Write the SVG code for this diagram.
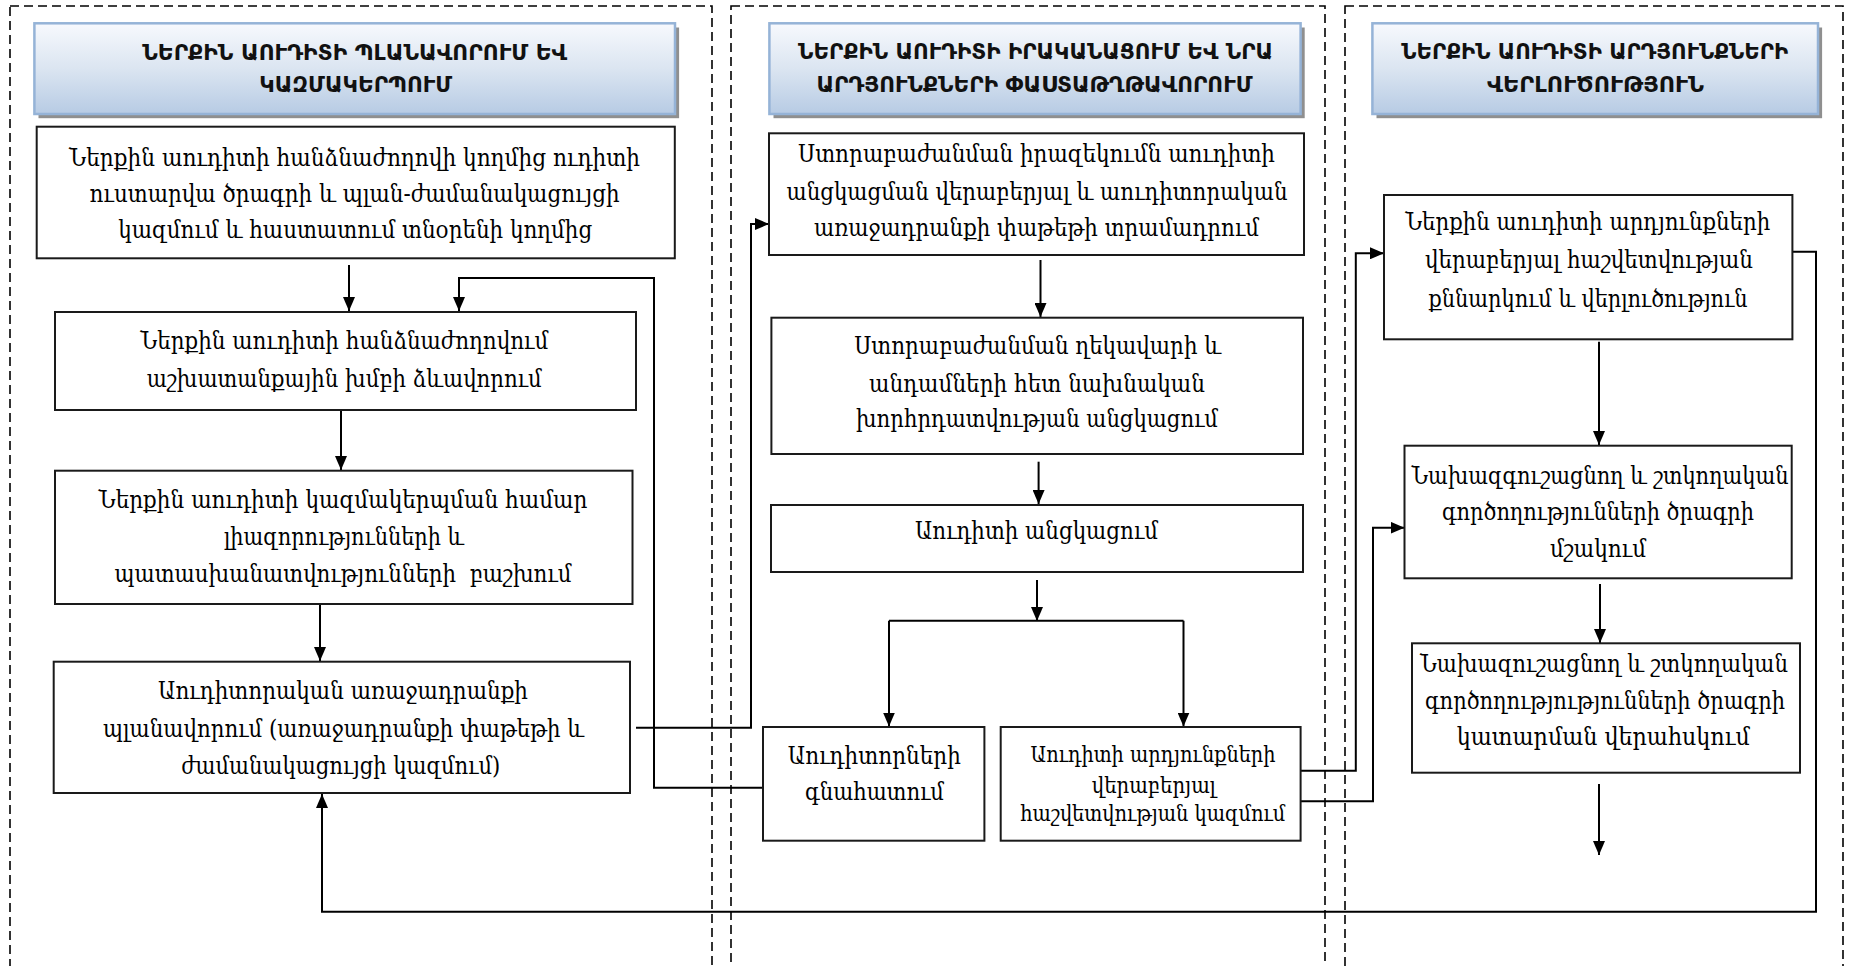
<svg xmlns="http://www.w3.org/2000/svg" width="1849" height="966" viewBox="0 0 1849 966">
<defs>
<linearGradient id="hg" x1="0" y1="0" x2="0" y2="1">
<stop offset="0" stop-color="#f7f9fd"/>
<stop offset="0.5" stop-color="#dbe5f1"/>
<stop offset="1" stop-color="#b7cbe4"/>
</linearGradient>
<marker id="ah" markerUnits="userSpaceOnUse" markerWidth="14" markerHeight="12" refX="14" refY="6" orient="auto">
<path d="M0,0 L14,6 L0,12 z" fill="#000"/>
</marker>
</defs>
<style>
.panel{fill:none;stroke:#000;stroke-width:1.6;stroke-dasharray:9 5}
.hdr{fill:url(#hg);stroke:#95b3d7;stroke-width:2.5}
.shd{fill:#8f8f8f}
.box{fill:#fff;stroke:#1a1a1a;stroke-width:2}
.ht{font-family:"DejaVu Sans",sans-serif;font-weight:bold;font-size:21.5px;fill:#111;text-anchor:middle}
.bt{font-family:"DejaVu Serif","DejaVu Sans",serif;font-size:24px;fill:#000;text-anchor:middle}
.bs{font-family:"DejaVu Serif","DejaVu Sans",serif;font-size:22px;fill:#000;text-anchor:middle}
.cn{fill:none;stroke:#000;stroke-width:2}
.ar{fill:none;stroke:#000;stroke-width:2;marker-end:url(#ah)}
</style>
<rect width="1849" height="966" fill="#fff"/>
<g id="panels">
<rect class="panel" x="10" y="6" width="702" height="990"/>
<rect class="panel" x="731" y="6" width="594" height="990"/>
<rect class="panel" x="1345" y="6" width="498" height="990"/>
</g>
<g id="header1">
<rect class="shd" x="38.5" y="27.5" width="640.6" height="90.7"/>
<rect class="hdr" x="34.4" y="23.3" width="640.6" height="90.7"/>
<text class="ht" x="354.7" y="60" textLength="425" lengthAdjust="spacingAndGlyphs">ՆԵՐՔԻՆ ԱՈՒԴԻՏԻ ՊԼԱՆԱՎՈՐՈՒՄ ԵՎ</text>
<text class="ht" x="355.7" y="92" textLength="193" lengthAdjust="spacingAndGlyphs">ԿԱԶՄԱԿԵՐՊՈՒՄ</text>
</g>
<g id="header2">
<rect class="shd" x="773.5" y="27.5" width="531.2" height="90.7"/>
<rect class="hdr" x="769.4" y="23.3" width="531.2" height="90.7"/>
<text class="ht" x="1035.5" y="59" textLength="475" lengthAdjust="spacingAndGlyphs">ՆԵՐՔԻՆ ԱՈՒԴԻՏԻ ԻՐԱԿԱՆԱՑՈՒՄ ԵՎ ՆՐԱ</text>
<text class="ht" x="1034.5" y="92" textLength="436" lengthAdjust="spacingAndGlyphs">ԱՐԴՅՈՒՆՔՆԵՐԻ ՓԱՍՏԱԹՂԹԱՎՈՐՈՒՄ</text>
</g>
<g id="header3">
<rect class="shd" x="1376.5" y="27.5" width="445.6" height="90.7"/>
<rect class="hdr" x="1372.4" y="23.3" width="445.6" height="90.7"/>
<text class="ht" x="1594.7" y="59" textLength="387" lengthAdjust="spacingAndGlyphs">ՆԵՐՔԻՆ ԱՈՒԴԻՏԻ ԱՐԴՅՈՒՆՔՆԵՐԻ</text>
<text class="ht" x="1595.5" y="92" textLength="217" lengthAdjust="spacingAndGlyphs">ՎԵՐԼՈՒԾՈՒԹՅՈՒՆ</text>
</g>
<g id="connectors">
<line class="ar" x1="349" y1="265" x2="349" y2="311"/>
<polyline class="ar" points="763,787.7 654,787.7 654,278 459,278 459,311"/>
<line class="ar" x1="341" y1="410" x2="341" y2="470"/>
<line class="ar" x1="320" y1="604" x2="320" y2="661"/>
<polyline class="ar" points="636,727.7 751,727.7 751,224 769,224"/>
<line class="ar" x1="1040.5" y1="260" x2="1040.5" y2="317"/>
<line class="ar" x1="1038.6" y1="461.7" x2="1038.6" y2="504"/>
<line class="ar" x1="1037" y1="580" x2="1037" y2="621"/>
<polyline class="cn" points="889,620.7 1183.5,620.7"/>
<polyline class="ar" points="889,620.7 889,726.5"/>
<polyline class="ar" points="1183.5,620.7 1183.5,726.5"/>
<polyline class="ar" points="1300.6,770.7 1355.8,770.7 1355.8,253.3 1384,253.3"/>
<polyline class="ar" points="1300.6,801.3 1373,801.3 1373,527.7 1404.5,527.7"/>
<line class="ar" x1="1599" y1="341.7" x2="1599" y2="445"/>
<line class="ar" x1="1600" y1="584" x2="1600" y2="643"/>
<line class="ar" x1="1599" y1="784" x2="1599" y2="855"/>
<polyline class="ar" points="1792.4,251.7 1816,251.7 1816,911.7 322,911.7 322,794"/>
</g>
<g id="box1">
<rect class="box" x="36.7" y="126.7" width="638.1" height="131.6"/>
<text class="bt" x="354.6" y="166" textLength="571" lengthAdjust="spacingAndGlyphs">Ներքին աուդիտի հանձնաժողովի կողմից ուդիտի</text>
<text class="bt" x="354.6" y="202" textLength="530" lengthAdjust="spacingAndGlyphs">ուստարվա ծրագրի և պլան-ժամանակացույցի</text>
<text class="bt" x="355.2" y="238" textLength="474" lengthAdjust="spacingAndGlyphs">կազմում և հաստատում տնօրենի կողմից</text>
</g>
<g id="box2">
<rect class="box" x="55" y="312" width="581" height="98"/>
<text class="bt" x="344.3" y="348.5" textLength="408" lengthAdjust="spacingAndGlyphs">Ներքին աուդիտի հանձնաժողովում</text>
<text class="bt" x="344.3" y="386.5" textLength="395" lengthAdjust="spacingAndGlyphs">աշխատանքային խմբի ձևավորում</text>
</g>
<g id="box3">
<rect class="box" x="55" y="470.7" width="577.5" height="133.3"/>
<text class="bt" x="343" y="507.5" textLength="489" lengthAdjust="spacingAndGlyphs">Ներքին աուդիտի կազմակերպման համար</text>
<text class="bt" x="344" y="544.5" textLength="240" lengthAdjust="spacingAndGlyphs">լիազորությունների և</text>
<text class="bt" x="343" y="581.5" textLength="457" lengthAdjust="spacingAndGlyphs" xml:space="preserve">պատասխանատվությունների  բաշխում</text>
</g>
<g id="box4">
<rect class="box" x="53.7" y="661.7" width="576.3" height="131.3"/>
<text class="bt" x="343" y="698.5" textLength="370" lengthAdjust="spacingAndGlyphs">Աուդիտորական առաջադրանքի</text>
<text class="bt" x="343.6" y="736.5" textLength="481" lengthAdjust="spacingAndGlyphs">պլանավորում (առաջադրանքի փաթեթի և</text>
<text class="bt" x="340.8" y="773.5" textLength="319" lengthAdjust="spacingAndGlyphs">ժամանակացույցի կազմում)</text>
</g>
<g id="box5">
<rect class="box" x="769" y="133.3" width="535" height="121.7"/>
<text class="bt" x="1036.5" y="161.5" textLength="477" lengthAdjust="spacingAndGlyphs">Ստորաբաժանման իրազեկումն աուդիտի</text>
<text class="bt" x="1037" y="199.5" textLength="501" lengthAdjust="spacingAndGlyphs">անցկացման վերաբերյալ և աուդիտորական</text>
<text class="bt" x="1036.5" y="235.5" textLength="445" lengthAdjust="spacingAndGlyphs">առաջադրանքի փաթեթի տրամադրում</text>
</g>
<g id="box6">
<rect class="box" x="771.4" y="317.7" width="531.6" height="136.3"/>
<text class="bt" x="1037.7" y="353.5" textLength="367" lengthAdjust="spacingAndGlyphs">Ստորաբաժանման ղեկավարի և</text>
<text class="bt" x="1037" y="391.5" textLength="336" lengthAdjust="spacingAndGlyphs">անդամների հետ նախնական</text>
<text class="bt" x="1037" y="427" textLength="362" lengthAdjust="spacingAndGlyphs">խորհրդատվության անցկացում</text>
</g>
<g id="box7">
<rect class="box" x="771" y="505" width="532" height="67"/>
<text class="bt" x="1036.5" y="538.5" textLength="243" lengthAdjust="spacingAndGlyphs">Աուդիտի անցկացում</text>
</g>
<g id="box8">
<rect class="box" x="763" y="727" width="221.4" height="113.7"/>
<text class="bt" x="874.3" y="763.5" textLength="173" lengthAdjust="spacingAndGlyphs">Աուդիտորների</text>
<text class="bt" x="874.5" y="800" textLength="139" lengthAdjust="spacingAndGlyphs">գնահատում</text>
</g>
<g id="box9">
<rect class="box" x="1000.7" y="727" width="299.9" height="113.7"/>
<text class="bs" x="1153" y="762" textLength="245" lengthAdjust="spacingAndGlyphs">Աուդիտի արդյունքների</text>
<text class="bs" x="1153.8" y="793" textLength="124" lengthAdjust="spacingAndGlyphs">վերաբերյալ</text>
<text class="bs" x="1152.8" y="820.5" textLength="265" lengthAdjust="spacingAndGlyphs">հաշվետվության կազմում</text>
</g>
<g id="box10">
<rect class="box" x="1384" y="195" width="408.4" height="144.3"/>
<text class="bt" x="1587.7" y="230" textLength="365" lengthAdjust="spacingAndGlyphs">Ներքին աուդիտի արդյունքների</text>
<text class="bt" x="1589" y="268" textLength="328" lengthAdjust="spacingAndGlyphs">վերաբերյալ հաշվետվության</text>
<text class="bt" x="1588" y="306.5" textLength="319" lengthAdjust="spacingAndGlyphs">քննարկում և վերլուծություն</text>
</g>
<g id="box11">
<rect class="box" x="1404.5" y="445.7" width="387.2" height="132.6"/>
<text class="bt" x="1600" y="483.5" textLength="377" lengthAdjust="spacingAndGlyphs">Նախազգուշացնող և շտկողական</text>
<text class="bt" x="1598" y="520" textLength="312" lengthAdjust="spacingAndGlyphs">գործողությունների ծրագրի</text>
<text class="bt" x="1598" y="556.5" textLength="96" lengthAdjust="spacingAndGlyphs">մշակում</text>
</g>
<g id="box12">
<rect class="box" x="1412" y="643.3" width="388" height="129.4"/>
<text class="bt" x="1604" y="671.5" textLength="368" lengthAdjust="spacingAndGlyphs">Նախազուշացնող և շտկողական</text>
<text class="bt" x="1605" y="708.5" textLength="360" lengthAdjust="spacingAndGlyphs">գործողությությունների ծրագրի</text>
<text class="bt" x="1603.3" y="745" textLength="293" lengthAdjust="spacingAndGlyphs">կատարման վերահսկում</text>
</g>
</svg>
